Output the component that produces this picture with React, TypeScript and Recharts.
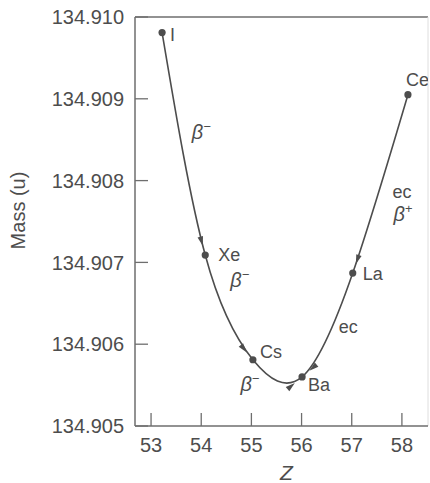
import { ComposedChart, Label, Line, ReferenceLine, Scatter, XAxis, YAxis } from 'recharts';

// A = 135 isobars: element, Z position as drawn, atomic mass (u)
const nuclides = ['I', 'Xe', 'Cs', 'Ba', 'La', 'Ce'];
const atomicNumber = [53.22, 54.08, 55.03, 56.01, 57.02, 58.12];
const massU = [134.90981, 134.90709, 134.90581, 134.9056, 134.90687, 134.90905];

// decay arrows (from -> to)
const decays = [
  { from: 'I', to: 'Xe' },
  { from: 'Xe', to: 'Cs' },
  { from: 'Cs', to: 'Ba' },
  { from: 'La', to: 'Ba' },
  { from: 'Ce', to: 'La' },
];

// decay-mode notes next to the curve
const annotations = [
  { z: 54.0, m: 134.90857, text: 'β', sup: '−' },
  { z: 54.77, m: 134.90677, text: 'β', sup: '−' },
  { z: 54.97, m: 134.90549, text: 'β', sup: '−' },
  { z: 56.93, m: 134.9062, text: 'ec', sup: '' },
  { z: 58.0, m: 134.90785, text: 'ec', sup: '' },
  { z: 58.02, m: 134.90757, text: 'β', sup: '+' },
];

const xTicks = [53, 54, 55, 56, 57, 58];
const yTicks = [134.905, 134.906, 134.907, 134.908, 134.909, 134.91];

const X_MIN = 52.68;
const X_MAX = 58.52;
const Y_MIN = 134.905;
const Y_MAX = 134.91;

const W = 430;
const H = 483;
const MARGIN = { top: 17, right: 2, left: 0, bottom: 0 };
const Y_AXIS_W = 135;
const X_AXIS_H = 57;

const INK = '#4d4d4d';
const AXIS = '#6e6e6e';
const FONT = '"Liberation Sans", Arial, Helvetica, sans-serif';

const lineData = nuclides.map((name, i) => ({ name, z: atomicNumber[i], m: massU[i] }));

// where each element symbol sits relative to its dot
const labelOffset: Record<string, [number, number]> = {
  I: [8, 2],
  Xe: [13, -1],
  Cs: [7, -8],
  Ba: [6, 8],
  La: [10, 0],
  Ce: [-2, -15],
};

function fallbackPoints() {
  const pw = W - MARGIN.left - MARGIN.right - Y_AXIS_W;
  const ph = H - MARGIN.top - MARGIN.bottom - X_AXIS_H;
  return lineData.map((d) => ({
    x: MARGIN.left + Y_AXIS_W + ((d.z - X_MIN) / (X_MAX - X_MIN)) * pw,
    y: MARGIN.top + ((Y_MAX - d.m) / (Y_MAX - Y_MIN)) * ph,
  }));
}

// derivative at each knot of a natural cubic spline (uniform parameter), same curve as type="natural"
function splineSlopes(v: number[]) {
  const n = v.length - 1;
  const M = new Array(n + 1).fill(0);
  if (n >= 2) {
    const a: number[] = [];
    const r: number[] = [];
    for (let i = 1; i < n; i++) r.push(6 * (v[i - 1] - 2 * v[i] + v[i + 1]));
    // Thomas algorithm for 1,4,1 system
    const c: number[] = [];
    const d: number[] = [];
    for (let i = 0; i < r.length; i++) {
      const denom = 4 - (i > 0 ? c[i - 1] : 0);
      c.push(1 / denom);
      d.push((r[i] - (i > 0 ? d[i - 1] : 0)) / denom);
    }
    for (let i = r.length - 1; i >= 0; i--) {
      a[i] = d[i] - c[i] * (i < r.length - 1 ? a[i + 1] : 0);
      M[i + 1] = a[i];
    }
  }
  return v.map((_, i) =>
    i < n ? v[i + 1] - v[i] - (2 * M[i] + M[i + 1]) / 6 : v[n] - v[n - 1] + (2 * M[n] + M[n - 1]) / 6,
  );
}

function NuclideDot(props: any) {
  const { cx, cy, index } = props;
  const name = nuclides[index];
  const pts: { x: number; y: number }[] =
    Array.isArray(props.points) && props.points.length === nuclides.length ? props.points : fallbackPoints();
  const sx = splineSlopes(pts.map((p) => p.x));
  const sy = splineSlopes(pts.map((p) => p.y));
  const [dx, dy] = labelOffset[name];

  const heads = decays
    .filter((d) => d.to === name)
    .map((d) => {
      const j = nuclides.indexOf(d.from);
      let tx = sx[index];
      let ty = sy[index];
      if (j > index) {
        tx = -tx;
        ty = -ty;
      }
      const len = Math.hypot(tx, ty) || 1;
      const ux = tx / len;
      const uy = ty / len;
      const tipX = cx - ux * 9.5;
      const tipY = cy - uy * 9.5;
      const bx = tipX - ux * 9.5;
      const by = tipY - uy * 9.5;
      const hw = 2.8;
      return (
        <polygon
          key={d.from + d.to}
          points={`${tipX},${tipY} ${bx - uy * hw},${by + ux * hw} ${bx + uy * hw},${by - ux * hw}`}
          fill={INK}
        />
      );
    });

  return (
    <g key={`dot-${index}`}>
      {heads}
      <circle cx={cx} cy={cy} r={3.6} fill={INK} />
      <text x={cx + dx} y={cy + dy + 6.5} fill={INK} fontSize={18} fontFamily={FONT}>
        {name}
      </text>
    </g>
  );
}

function Note(props: any) {
  const { cx, cy, payload } = props;
  const greek = payload.text === 'β';
  return (
    <text
      x={cx}
      y={cy + 5.5}
      textAnchor="middle"
      fill={INK}
      fontFamily={FONT}
      fontSize={greek ? 20 : 18}
      fontStyle={greek ? 'italic' : 'normal'}
    >
      {payload.text}
      {payload.sup ? (
        <tspan fontSize={13} dy={-8}>
          {payload.sup}
        </tspan>
      ) : null}
    </text>
  );
}

function MassLabel(props: any) {
  const vb = props.viewBox;
  return (
    <text
      transform={`translate(${vb.x + 25}, ${vb.y + vb.height / 2 - 11}) rotate(-90)`}
      textAnchor="middle"
      fill={INK}
      fontSize={20}
      fontFamily={FONT}
    >
      Mass (u)
    </text>
  );
}

function ZLabel(props: any) {
  const vb = props.viewBox;
  return (
    <text
      x={vb.x + vb.width / 2 + 5}
      y={vb.y + vb.height - 3}
      textAnchor="middle"
      fill={INK}
      fontSize={21}
      fontStyle="italic"
      fontFamily={FONT}
    >
      Z
    </text>
  );
}

export default function App() {
  return (
    <div style={{ position: 'absolute', left: 0, top: 0, background: '#fff' }}>
      <ComposedChart width={W} height={H} margin={MARGIN}>
        <XAxis
          type="number"
          dataKey="z"
          domain={[X_MIN, X_MAX]}
          allowDataOverflow
          ticks={xTicks}
          interval={0}
          height={X_AXIS_H}
          tickSize={-13}
          tickMargin={25}
          axisLine={{ stroke: AXIS, strokeWidth: 1.5 }}
          tickLine={{ stroke: AXIS, strokeWidth: 1.3 }}
          tick={{ fill: INK, fontSize: 20, fontFamily: FONT }}
        >
          <Label content={ZLabel} />
        </XAxis>
        <YAxis
          type="number"
          domain={[Y_MIN, Y_MAX]}
          allowDataOverflow
          ticks={yTicks}
          interval={0}
          width={Y_AXIS_W}
          tickSize={-13}
          tickMargin={24}
          tickFormatter={(v: number) => v.toFixed(3)}
          axisLine={{ stroke: AXIS, strokeWidth: 1.5 }}
          tickLine={{ stroke: AXIS, strokeWidth: 1.3 }}
          tick={{ fill: INK, fontSize: 20, fontFamily: FONT }}
        >
          <Label content={MassLabel} />
        </YAxis>
        <ReferenceLine y={Y_MAX} stroke={AXIS} strokeWidth={1.5} />
        <ReferenceLine x={X_MAX} stroke="#dedede" strokeWidth={1} />
        <Line
          data={lineData}
          dataKey="m"
          type="natural"
          stroke={INK}
          strokeWidth={1.6}
          dot={(p: any) => <NuclideDot {...p} />}
          activeDot={false}
          isAnimationActive={false}
        />
        <Scatter data={annotations} dataKey="m" shape={(p: any) => <Note {...p} />} isAnimationActive={false} />
      </ComposedChart>
    </div>
  );
}
